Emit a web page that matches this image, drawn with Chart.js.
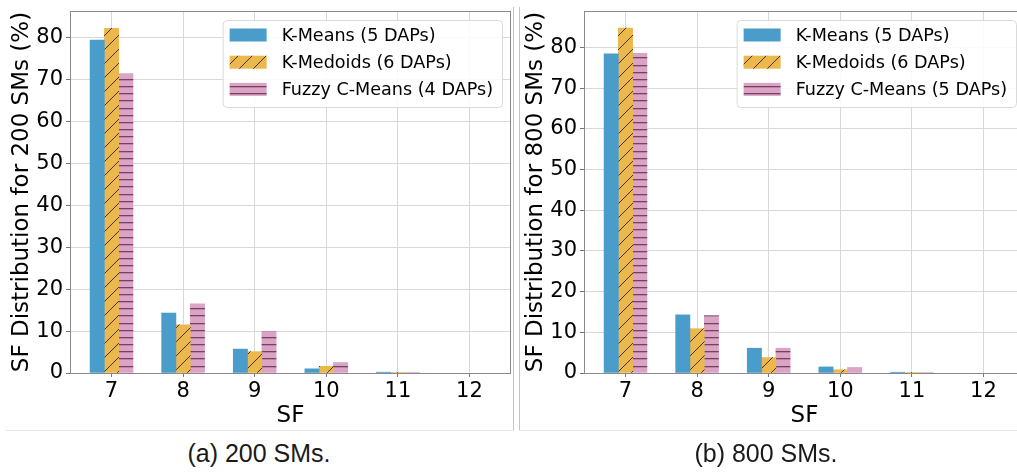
<!DOCTYPE html>
<html><head><meta charset="utf-8">
<script src="https://cdn.jsdelivr.net/npm/chart.js@4.4.1/dist/chart.umd.min.js"></script>
<style>
html,body{margin:0;padding:0;background:#fff;overflow:hidden;width:1017px;height:473px;}
#wrap{position:relative;width:1017px;height:473px;overflow:hidden;background:#fff;}
canvas{position:absolute;top:0;}
#c1{left:0}
#c2{left:514px}
.vline{position:absolute;top:7px;height:423px;width:1px;background:#c4c4c4;}
.hline{position:absolute;top:430px;height:1px;background:#e6e6e6;}
.cap{position:absolute;top:437px;font-family:"Liberation Sans",Arial,sans-serif;font-size:25px;color:#1a1a1a;text-align:center;width:300px;line-height:32px;white-space:nowrap;}
</style></head>
<body><div id="wrap">
<canvas id="c1" width="515" height="430"></canvas>
<canvas id="c2" width="515" height="430"></canvas>
<div class="vline" style="left:513px"></div>
<div class="vline" style="left:519px"></div>
<div class="hline" style="left:6px;width:508px"></div>
<div class="hline" style="left:519px;width:498px"></div>
<div class="cap" style="left:109px">(a) 200 SMs.</div>
<div class="cap" style="left:616px">(b) 800 SMs.</div>
</div>
<script>
// ---- data ----
const sfValues = [7, 8, 9, 10, 11, 12];
const yTickValues = [0, 10, 20, 30, 40, 50, 60, 70, 80];
const seriesNames200 = ['K-Means (5 DAPs)', 'K-Medoids (6 DAPs)', 'Fuzzy C-Means (4 DAPs)'];
const seriesNames800 = ['K-Means (5 DAPs)', 'K-Medoids (6 DAPs)', 'Fuzzy C-Means (5 DAPs)'];
const kMeans200   = [79.4, 14.3, 5.7, 1.0, 0.2, 0];
const kMedoids200 = [82.2, 11.5, 5.1, 1.6, 0.15, 0];
const fcm200      = [71.3, 16.5, 9.9, 2.5, 0.15, 0];
const kMeans800   = [78.5, 14.3, 6.1, 1.5, 0.2, 0];
const kMedoids800 = [84.8, 10.9, 3.8, 0.8, 0.1, 0];
const fcm800      = [78.6, 14.1, 6.1, 1.3, 0.1, 0];
const yTitle200 = 'SF Distribution for 200 SMs (%)';
const yTitle800 = 'SF Distribution for 800 SMs (%)';
const xTitle = 'SF';

// ---- styles ----
const baseColors = ['#4a9dca', '#ecb84b', '#dca3c5'];
const FONT = '"DejaVu Sans", sans-serif';

function makeDiag(base) {
  const c = document.createElement('canvas');
  c.width = 14; c.height = 14;
  const g = c.getContext('2d');
  g.fillStyle = base; g.fillRect(0, 0, 14, 14);
  g.strokeStyle = 'rgba(35,28,15,0.85)'; g.lineWidth = 1;
  g.beginPath();
  g.moveTo(-1, 15); g.lineTo(15, -1);
  g.moveTo(-1, 1); g.lineTo(1, -1);
  g.moveTo(13, 15); g.lineTo(15, 13);
  g.stroke();
  return g.createPattern(c, 'repeat');
}
function makeHoriz(base) {
  const c = document.createElement('canvas');
  c.width = 8; c.height = 43;
  const g = c.getContext('2d');
  g.fillStyle = base; g.fillRect(0, 0, 8, 43);
  g.fillStyle = 'rgba(85,45,70,0.8)';
  for (let i = 0; i < 6; i++) {
    const y = Math.round(i * 43 / 6);
    g.fillRect(0, y, 8, 1.3);
  }
  return g.createPattern(c, 'repeat');
}
const fills = [baseColors[0], makeDiag(baseColors[1]), makeHoriz(baseColors[2])];

const framePlugin = {
  id: 'frame',
  afterDatasetsDraw(chart) {
    const {ctx, chartArea: a} = chart;
    ctx.save();
    ctx.strokeStyle = '#8a8a8a'; ctx.lineWidth = 1;
    ctx.strokeRect(Math.round(a.left) + 0.5, Math.round(a.top) + 0.5,
                   Math.round(a.right - a.left) - 1, Math.round(a.bottom - a.top));
    ctx.restore();
  }
};

const hatchLegend = {
  id: 'hatchLegend',
  afterDraw(chart) {
    const {ctx, chartArea} = chart;
    const ds = chart.data.datasets;
    ctx.save();
    ctx.font = '17.6px ' + FONT;
    const maxW = Math.max(...ds.map(d => ctx.measureText(d.label).width));
    const w = 7 + 37 + 15 + maxW + 9;
    const h = 87;
    const x = chartArea.right - 9 - w, y = chartArea.top + 9;
    ctx.beginPath();
    if (ctx.roundRect) ctx.roundRect(x + 0.5, y + 0.5, w, h, 4); else ctx.rect(x + 0.5, y + 0.5, w, h);
    ctx.fillStyle = 'rgba(255,255,255,0.85)';
    ctx.fill();
    ctx.strokeStyle = '#dadada'; ctx.lineWidth = 1;
    ctx.stroke();
    ds.forEach((d, i) => {
      const cy = y + 15 + i * 27.2;
      ctx.fillStyle = d.backgroundColor;
      ctx.fillRect(x + 7, cy - 6.5, 37, 13);
      ctx.fillStyle = '#000';
      ctx.textBaseline = 'middle';
      ctx.textAlign = 'left';
      ctx.fillText(d.label, x + 59, cy + 1);
    });
    ctx.restore();
  }
};

function buildChart(id, names, series, yMax, yTitle) {
  new Chart(document.getElementById(id), {
    type: 'bar',
    data: {
      datasets: series.map((vals, k) => ({
        label: names[k],
        data: sfValues.map((s, i) => ({x: s, y: vals[i]})),
        backgroundColor: fills[k],
        borderWidth: 0,
        inflateAmount: c => (c.raw && c.raw.y > 0 ? 0.3 : 0),
        categoryPercentage: 0.6,
        barPercentage: 1.0
      }))
    },
    options: {
      responsive: false, animation: false, devicePixelRatio: 1,
      layout: {padding: {top: 11, right: 4, left: 0, bottom: 0}},
      plugins: {legend: {display: false}, tooltip: {enabled: false}},
      scales: {
        x: {
          type: 'linear', min: 6.42, max: 12.58, offset: false,
          afterBuildTicks: s => { s.ticks = sfValues.map(v => ({value: v})); },
          afterFit: s => { s.height = 57; s.paddingLeft = 0; s.paddingRight = 0; },
          grid: {color: '#d9d9d9', lineWidth: 1, offset: false, tickLength: 4, tickColor: '#777', drawTicks: true},
          border: {display: false},
          ticks: {font: {family: FONT, size: 21}, color: '#000', padding: 2, maxRotation: 0, autoSkip: false,
                  callback: v => String(v)},
          title: {display: true, text: xTitle, font: {family: FONT, size: 23}, color: '#000',
                  padding: {top: 0, bottom: 0}}
        },
        y: {
          type: 'linear', min: 0, max: yMax,
          afterBuildTicks: s => { s.ticks = yTickValues.map(v => ({value: v})); },
          afterFit: s => { s.width = 70; s.paddingTop = 0; s.paddingBottom = 0; },
          grid: {color: '#d9d9d9', lineWidth: 1, tickLength: 4, tickColor: '#777', drawTicks: true},
          border: {display: false},
          ticks: {font: {family: FONT, size: 21}, color: '#000', padding: 3, callback: v => String(v)},
          title: {display: true, text: yTitle, font: {family: FONT, size: 23}, color: '#000',
                  padding: {top: 8, bottom: 0}}
        }
      }
    },
    plugins: [framePlugin, hatchLegend]
  });
}

buildChart('c1', seriesNames200, [kMeans200, kMedoids200, fcm200], 86.3, yTitle200);
buildChart('c2', seriesNames800, [kMeans800, kMedoids800, fcm800], 89.0, yTitle800);
</script>
</body></html>
